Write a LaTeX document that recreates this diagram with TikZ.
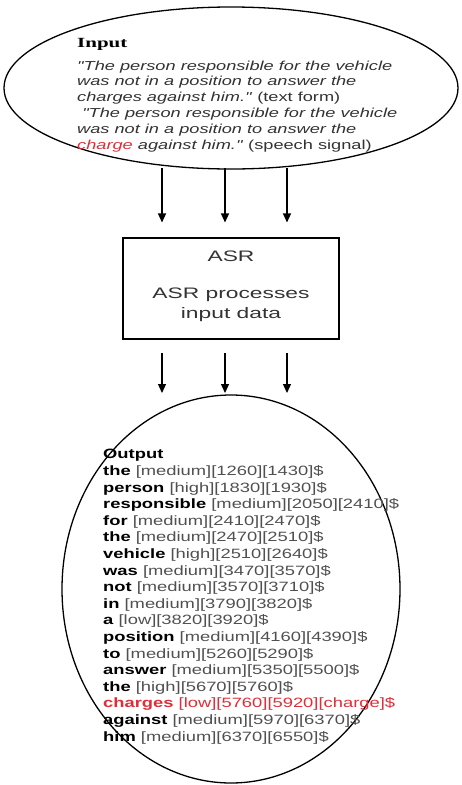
\documentclass[tikz,border=0pt]{standalone}
\usepackage{fontspec}
\setmainfont{Liberation Sans}
\newfontfamily\quotefont[FakeStretch=1.4]{Liberation Sans}
\newfontfamily\outfont[FakeStretch=1.36]{Liberation Sans}
\newfontfamily\asrfont[FakeStretch=1.5]{Liberation Sans}
\newfontfamily\inhead[FakeStretch=1.5]{Liberation Serif}
\usetikzlibrary{arrows.meta,shapes.geometric}
\definecolor{qgray}{RGB}{50,50,50}
\definecolor{bgray}{RGB}{80,80,80}
\definecolor{hred}{RGB}{225,45,55}
\newcommand\ow[2]{\textbf{#1} {\color{bgray}#2}\\}
\tikzset{
  bubble/.style={draw, ellipse, line width=1.3pt, inner sep=0pt},
  procbox/.style={draw, line width=1.1pt, inner sep=0pt},
  flow/.style={line width=1.2pt, -{Triangle[length=9pt,width=8pt]}},
  intext/.style={anchor=base west, align=left, inner sep=0pt, font=\quotefont\fontsize{13}{15.8}\selectfont, text=qgray},
  outtext/.style={anchor=base west, align=left, inner sep=0pt, font=\outfont\fontsize{13.5}{16.6}\selectfont},
  asrtext/.style={align=center, inner sep=0pt, font=\asrfont\fontsize{15.2}{20}\selectfont, text=black!80}
}
\begin{document}
\begin{tikzpicture}[x=1pt,y=-1pt]
\useasboundingbox (0,0) rectangle (461,785);
\node[bubble, minimum width=454pt, minimum height=162pt] (in) at (231,88) {};
\node[procbox, minimum width=216pt, minimum height=101pt] (asr) at (231,288.5) {};
\node[bubble, minimum width=338pt, minimum height=388pt] (out) at (231,589) {};

% base anchor lies on the last line
\node[intext] (intxt) at (77,149) {{\inhead\fontsize{14}{15.8}\selectfont\bfseries\color{black}Input}\\[6.5pt]
\textit{"The person responsible for the vehicle}\\
\textit{was not in a position to answer the}\\
\textit{charges against him."} (text form)\\
\ \textit{"The person responsible for the vehicle}\\
\textit{was not in a position to answer the}\\
\textit{{\color{hred}charge} against him."} (speech signal)};

\node[asrtext] (asrt) at (231,256) {ASR};
\node[asrtext] (asrd) at (231,305) {ASR processes\\input data};

\node[outtext] (outtxt) at (103,741) {\textbf{Output}\\
\ow{the}{[medium][1260][1430]\$}
\ow{person}{[high][1830][1930]\$}
\ow{responsible}{[medium][2050][2410]\$}
\ow{for}{[medium][2410][2470]\$}
\ow{the}{[medium][2470][2510]\$}
\ow{vehicle}{[high][2510][2640]\$}
\ow{was}{[medium][3470][3570]\$}
\ow{not}{[medium][3570][3710]\$}
\ow{in}{[medium][3790][3820]\$}
\ow{a}{[low][3820][3920]\$}
\ow{position}{[medium][4160][4390]\$}
\ow{to}{[medium][5260][5290]\$}
\ow{answer}{[medium][5350][5500]\$}
\ow{the}{[high][5670][5760]\$}
{\color{hred}\textbf{charges} [low][5760][5920][charge]\$}\\
\ow{against}{[medium][5970][6370]\$}
\textbf{him} {\color{bgray}[medium][6370][6550]\$}};

\foreach \i/\xx in {1/162,2/225,3/287}{
  \coordinate (u\i) at (\xx,168);
  \coordinate (l\i) at (\xx,353);
  \draw[flow, shorten >=15pt] (u\i) -- (u\i |- asr.north);
  \draw[flow] (l\i) -- (\xx,393);
}
\end{tikzpicture}
\end{document}
